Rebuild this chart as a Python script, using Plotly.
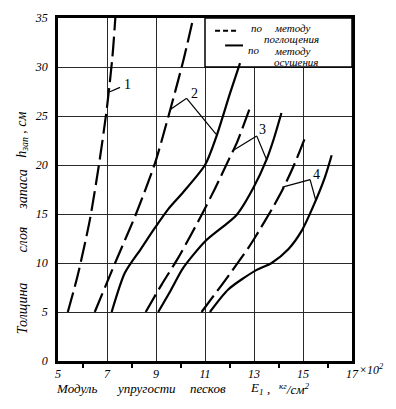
import plotly.graph_objects as go

# ---------------- data ----------------
# curve 1 (absorption method, dashed)
c1_abs_x = [5.4, 5.8, 6.3, 6.7, 7.0, 7.22, 7.34]
c1_abs_y = [5, 8.7, 14.4, 20.5, 25.9, 31.0, 35.0]
# curve 2
c2_abs_x = [6.5, 7.33, 8.2, 8.96, 9.5, 10.1, 10.52]
c2_abs_y = [5, 10.0, 15.1, 20.2, 24.9, 30.5, 35.0]
c2_dry_x = [7.19, 7.73, 8.4, 8.96, 9.5, 10.1, 11.0, 11.45, 12.02, 12.43]
c2_dry_y = [5, 9.0, 11.5, 13.6, 15.5, 17.2, 20.0, 22.8, 27.3, 30.4]
# curve 3
c3_abs_x = [8.58, 9.23, 9.9, 10.39, 10.86, 11.41, 11.98, 12.29, 12.86]
c3_abs_y = [5, 7.8, 10.5, 12.7, 14.9, 17.6, 20.6, 22.2, 26.0]
c3_dry_x = [9.09, 9.6, 10.11, 11.0, 12.29, 12.97, 13.52, 13.8, 14.12]
c3_dry_y = [5, 7.2, 9.5, 12.2, 14.9, 17.65, 20.6, 22.6, 25.3]
# curve 4
c4_abs_x = [10.86, 11.95, 12.77, 13.04, 13.8, 14.2, 14.67, 15.15]
c4_abs_y = [5, 8.67, 11.55, 12.6, 15.8, 17.65, 20.2, 23.2]
c4_dry_x = [11.2, 11.95, 13.04, 13.72, 14.4, 14.95, 15.42, 15.9, 16.17]
c4_dry_y = [5, 7.3, 9.2, 10.0, 11.4, 13.3, 15.8, 18.8, 21.0]

x_ticks = [5, 7, 9, 11, 13, 15, 17]
x_minor = [6, 8, 10, 12, 14, 16]
y_ticks = [0, 5, 10, 15, 20, 25, 30, 35]

curve_labels = ["1", "2", "3", "4"]

FONT = "Liberation Serif"
DASH = "20px,6px"

fig = go.Figure()


def add_curve(x, y, dash):
    fig.add_trace(go.Scatter(
        x=x, y=y, mode="lines",
        line=dict(color="black", width=2.2, dash=dash, shape="spline", smoothing=0.7),
        showlegend=False, hoverinfo="skip"))


add_curve(c1_abs_x, c1_abs_y, DASH)
add_curve(c2_abs_x, c2_abs_y, DASH)
add_curve(c2_dry_x, c2_dry_y, "solid")
add_curve(c3_abs_x, c3_abs_y, DASH)
add_curve(c3_dry_x, c3_dry_y, "solid")
add_curve(c4_abs_x, c4_abs_y, DASH)
add_curve(c4_dry_x, c4_dry_y, "solid")

shapes = []
# legend box (blank area in top-right corner)
shapes.append(dict(type="rect", xref="x", yref="y", x0=11, x1=17, y0=30, y1=35,
                   fillcolor="white", line=dict(color="black", width=1.5), layer="between"))
# legend samples
shapes.append(dict(type="line", xref="x", yref="y", x0=11.41, x1=12.31, y0=33.7, y1=33.7,
                   line=dict(color="black", width=2, dash="5px,3px")))
shapes.append(dict(type="line", xref="x", yref="y", x0=11.82, x1=12.55, y0=32.2, y1=32.2,
                   line=dict(color="black", width=2)))

# leader lines for curve labels: (vertex, ends)
leaders = [
    ((7.53, 27.92), [(7.12, 27.47)]),
    ((10.25, 26.8), [(9.6, 25.7), (11.45, 23.14)]),
    ((13.11, 22.97), [(12.16, 21.5), (13.52, 20.5)]),
    ((15.29, 18.5), [(14.16, 17.75), (15.52, 16.4)]),
]
for (vx, vy), ends in leaders:
    for ex, ey in ends:
        shapes.append(dict(type="line", xref="x", yref="y", x0=vx, y0=vy, x1=ex, y1=ey,
                           line=dict(color="black", width=1.2)))

label_pos = [(7.82, 28.25), (10.59, 27.3), (13.33, 23.58), (15.55, 19.0)]

ann = []
for t, (lx, ly) in zip(curve_labels, label_pos):
    ann.append(dict(x=lx, y=ly, xref="x", yref="y", text=t, showarrow=False,
                    font=dict(family=FONT, size=14, color="black")))

legend_font = dict(family=FONT, size=11, color="black", style="italic")
legend_texts = [
    ("по", 12.84, 34.0), ("методу", 13.78, 34.0), ("поглощения", 13.37, 32.85),
    ("по", 12.71, 31.7), ("методу", 13.78, 31.65), ("осушения", 13.78, 30.55),
]
for t, lx, ly in legend_texts:
    ann.append(dict(x=lx, y=ly, xref="x", yref="y", text=t, showarrow=False,
                    xanchor="left", yanchor="middle", borderpad=0, font=legend_font))

title_font = dict(family=FONT, size=14, color="black", style="italic")
# y-axis title words (rotated)
y_title_words = [("Толщина", 5.4), ("слоя", 12.4), ("запаса", 17.5),
                 ("h<sub>зап</sub> , см", 23.1)]
for t, ty in y_title_words:
    ann.append(dict(x=-0.122, y=ty, xref="paper", yref="y", text=t, showarrow=False,
                    textangle=-90, xanchor="center", yanchor="middle", font=title_font))

# x-axis title words
xt_font = dict(family=FONT, size=13, color="black", style="italic")
x_title_words = [("Модуль", 55), ("упругости", 115), ("песков", 189), ("E<sub>1</sub>", 249),
                 (",", 266), ("<sup>кг</sup>/см<sup>2</sup>", 278)]
for t, px in x_title_words:
    ann.append(dict(x=(px - 58) / 294, y=-0.081, xref="paper", yref="paper", text=t,
                    showarrow=False, xanchor="left", yanchor="middle", borderpad=0, font=xt_font))

ann.append(dict(x=(357 - 58) / 294, y=-0.025, xref="paper", yref="paper", text="×10<sup>2</sup>",
                showarrow=False, xanchor="left", yanchor="middle",
                font=dict(family=FONT, size=12, color="black", style="italic")))

tick_font = dict(family=FONT, size=12, color="black", style="italic")

# page body has an 8px default margin: shrink figure and margins to compensate
fig.update_layout(
    width=388, height=401, autosize=False,
    margin=dict(l=50, r=44, t=10, b=48, pad=0),
    paper_bgcolor="white", plot_bgcolor="white",
    showlegend=False,
    shapes=shapes, annotations=ann,
    xaxis=dict(range=[5, 17], tickvals=x_ticks, ticktext=[str(v) for v in x_ticks],
               automargin=False,
               showgrid=True, gridcolor="#2a2a2a", gridwidth=1,
               showline=True, linecolor="black", linewidth=2.5, mirror=True,
               ticks="", zeroline=False, tickfont=tick_font,
               minor=dict(tickvals=x_minor, ticks="outside", ticklen=4, tickwidth=1.5,
                          tickcolor="black", showgrid=False)),
    yaxis=dict(range=[0, 35], tickvals=y_ticks, ticktext=[str(v) for v in y_ticks],
               automargin=False,
               showgrid=True, gridcolor="#2a2a2a", gridwidth=1,
               showline=True, linecolor="black", linewidth=2.5, mirror=True,
               ticks="", zeroline=False, tickfont=tick_font, ticklabelstandoff=5),
)

fig.write_html("out.html")
